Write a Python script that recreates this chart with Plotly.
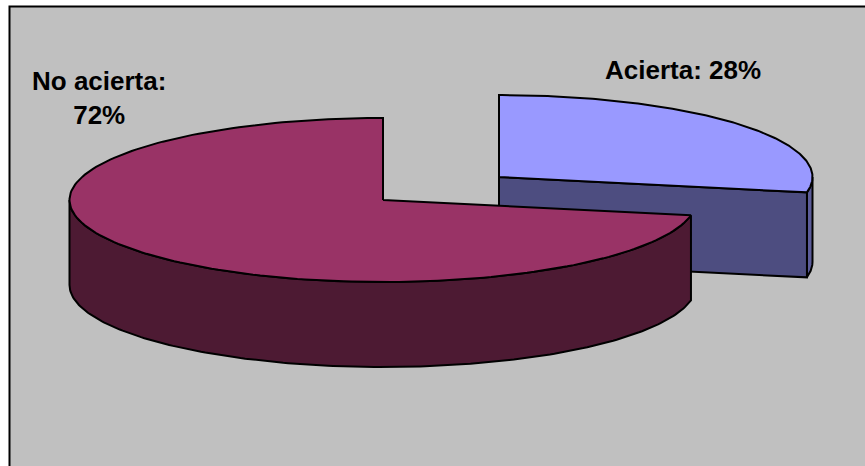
import numpy as np
import plotly.graph_objects as go

categories = ["Acierta", "No acierta"]
values = [28, 72]
top_colors = ["#9999FF", "#993366"]
wall_colors = ["#5C5C99", "#4D1A33"]
cut_color = "#4D4D80"

W, H = 865, 466
RX, RY, DEPTH = 313.5, 82, 85
centers = [(499, 177), (383, 200)]
label_pos = [(683, 70), (99, 98)]
label_text = ["Acierta: 28%", "No acierta:<br>72%"]


def pt(c, deg):
    a = np.radians(deg)
    return c[0] + RX * np.sin(a), c[1] - RY * np.cos(a)


def arc(c, a0, a1):
    t = np.linspace(a0, a1, 181)
    return pt(c, t)


def poly(fig, xs, ys, color, name):
    fig.add_trace(go.Scatter(
        x=list(xs), y=list(ys), mode="lines", fill="toself", fillcolor=color,
        line=dict(color="black", width=2), hoverinfo="name", name=name,
        showlegend=False))


def wall(fig, c, a0, a1, color, name):
    x, y = arc(c, a0, a1)
    xs = np.concatenate([x, x[::-1], x[:1]])
    ys = np.concatenate([y, y[::-1] + DEPTH, y[:1]])
    poly(fig, xs, ys, color, name)


fig = go.Figure()
total = sum(values)
split = 360 * values[0] / total

# first slice: rim, cut face, top
c = centers[0]
wall(fig, c, 90, split, wall_colors[0], categories[0])
ex, ey = pt(c, split)
poly(fig, [c[0], ex, ex, c[0], c[0]],
     [c[1], ey, ey + DEPTH, c[1] + DEPTH, c[1]], cut_color, categories[0])
x, y = arc(c, 0, split)
poly(fig, np.r_[c[0], x, c[0]], np.r_[c[1], y, c[1]], top_colors[0], categories[0])

# second slice: outer wall, top
c = centers[1]
wall(fig, c, split, 270, wall_colors[1], categories[1])
x, y = arc(c, split, 360)
poly(fig, np.r_[c[0], x, c[0]], np.r_[c[1], y, c[1]], top_colors[1], categories[1])

for (lx, ly), t in zip(label_pos, label_text):
    fig.add_annotation(x=lx, y=ly, xref="x", yref="y", text=t, showarrow=False,
                       align="center",
                       font=dict(family="Liberation Sans", size=26, color="black",
                                 weight="bold"))

fig.update_layout(
    width=W, height=H, margin=dict(l=0, r=0, t=0, b=0), autosize=False,
    paper_bgcolor="white", plot_bgcolor="white",
    xaxis=dict(range=[0, W], visible=False, fixedrange=True),
    yaxis=dict(range=[H, 0], visible=False, fixedrange=True),
    shapes=[dict(type="rect", xref="x", yref="y", x0=9.5, y0=6.5, x1=W + 5, y1=H + 5,
                 fillcolor="#C0C0C0", line=dict(color="black", width=2), layer="below")],
)
fig.write_html("out.html", config=dict(displayModeBar=False),
               post_script="document.body.style.margin='0';document.body.style.overflow='hidden';")
